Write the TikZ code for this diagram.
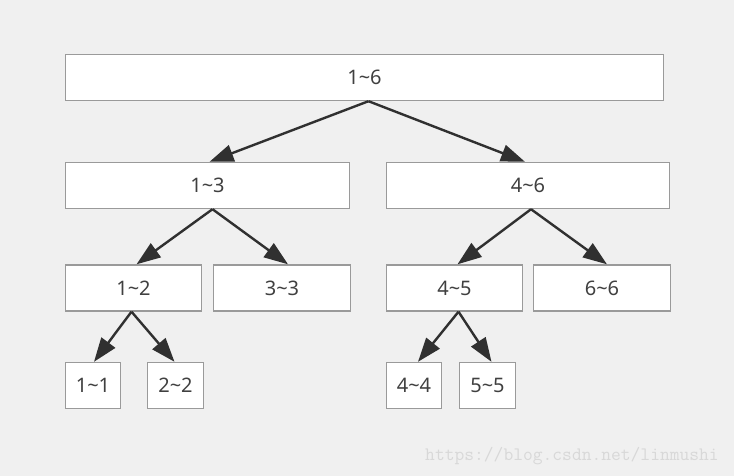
\documentclass[tikz,border=0pt]{standalone}
\usepackage{fontspec}
\setmainfont{Noto Sans}
\usetikzlibrary{arrows.meta, positioning}
\definecolor{bggray}{HTML}{F0F0F0}
\definecolor{boxgray}{HTML}{9A9A9A}
\definecolor{txtgray}{HTML}{404040}
\definecolor{arrgray}{HTML}{303030}
\definecolor{markgray}{HTML}{D8D8D8}

\begin{document}
\begin{tikzpicture}[x=1pt,y=-1pt]
    \tikzstyle{seg}=[shape=rectangle,draw=boxgray,line width=1.4pt,fill=white,text=txtgray,minimum height=46pt,inner sep=0pt,font=\fontsize{20}{24}\selectfont]
    \tikzstyle{segarrow}=[-{Triangle[length=24pt,width=17pt]},draw=arrgray,line width=2.4pt]

    \fill[bggray] (0,0) rectangle (734,476);
    \useasboundingbox (0,0) rectangle (734,476);

    % levels of the segment tree
    \node[seg,minimum width=598pt] (r16) at (364.5,77.5) {1\char`~6};
    \node[seg,minimum width=284pt] (r13) at (207.5,185.5) {1\char`~3};
    \node[seg,minimum width=283pt] (r46) at (528,185.5) {4\char`~6};
    \node[seg,minimum width=136pt] (r12) at (133.5,288) {1\char`~2};
    \node[seg,minimum width=137pt] (r33) at (282,288) {3\char`~3};
    \node[seg,minimum width=136pt] (r45) at (454.5,288) {4\char`~5};
    \node[seg,minimum width=137pt] (r66) at (602,288) {6\char`~6};
    \node[seg,minimum width=55pt] (r11) at (93,385.5) {1\char`~1};
    \node[seg,minimum width=56pt] (r22) at (175.5,385.5) {2\char`~2};
    \node[seg,minimum width=55pt] (r44) at (414,385.5) {4\char`~4};
    \node[seg,minimum width=56pt] (r55) at (487.5,385.5) {5\char`~5};

    \path
    ([xshift=4pt]r16.south) edge[segarrow] ([xshift=2pt]r13.north)
    ([xshift=4pt]r16.south) edge[segarrow] ([xshift=-3pt]r46.north)
    ([xshift=5pt]r13.south) edge[segarrow] ([xshift=3pt]r12.north)
    ([xshift=5pt]r13.south) edge[segarrow] ([xshift=6pt]r33.north)
    ([xshift=3pt]r46.south) edge[segarrow] ([xshift=3pt]r45.north)
    ([xshift=3pt]r46.south) edge[segarrow] ([xshift=5pt]r66.north)
    ([xshift=-2pt]r12.south) edge[segarrow] ([xshift=1pt]r11.north)
    ([xshift=-2pt]r12.south) edge[segarrow] ([xshift=-1pt]r22.north)
    ([xshift=4pt]r45.south) edge[segarrow] ([xshift=4pt]r44.north)
    ([xshift=4pt]r45.south) edge[segarrow] ([xshift=4pt]r55.north)
   ;

    \node[text=markgray,font=\ttfamily\fontsize{19}{20}\selectfont] (mark) at (572,456) {https://blog.csdn.net/linmushi};
\end{tikzpicture}
\end{document}
